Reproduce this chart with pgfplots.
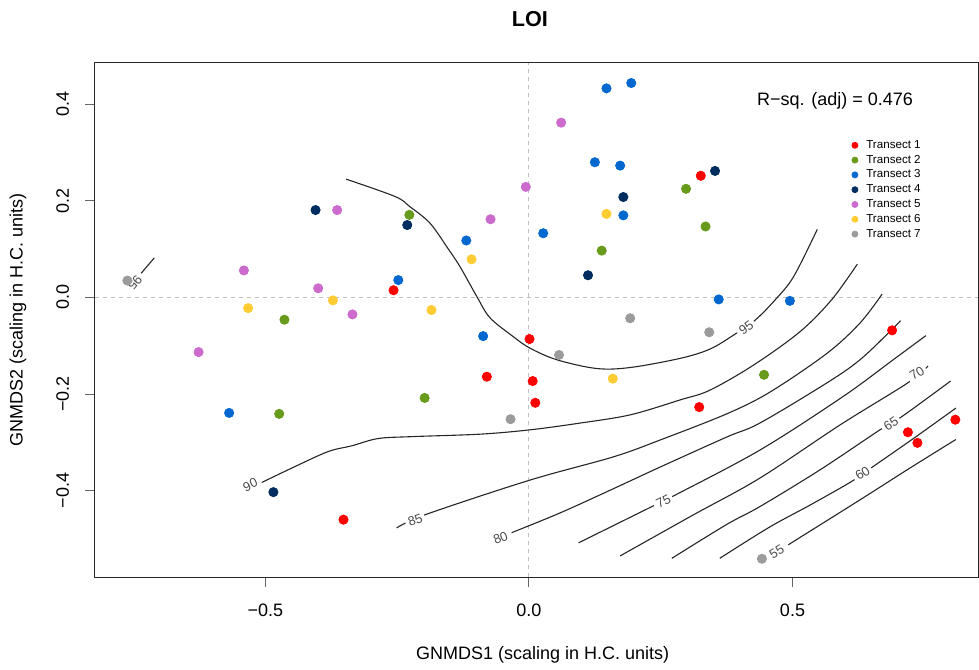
\documentclass[border=0pt]{standalone}
\usepackage{pgfplots}
\pgfplotsset{compat=1.18}
\usepackage{fontspec}
\setmainfont{Liberation Sans}
\definecolor{t1}{RGB}{255,0,0}
\definecolor{t2}{RGB}{104,154,28}
\definecolor{t3}{RGB}{0,104,206}
\definecolor{t4}{RGB}{0,45,95}
\definecolor{t5}{RGB}{204,106,206}
\definecolor{t6}{RGB}{255,204,51}
\definecolor{t7}{RGB}{155,155,155}
\tikzset{clab/.style={fill=white, inner xsep=1.4pt, inner ysep=0.4pt, font=\fontsize{6.5}{7}\selectfont, text=black!70}}
\pgfplotsset{cline/.style={black!85, line width=0.55pt, smooth, tension=0.55, forget plot, no markers}}
\begin{document}
\begin{tikzpicture}
\begin{axis}[
  at={(0,0)}, anchor=south west,
  scale only axis, width=441.5pt, height=257pt,
  xmin=-0.8235, xmax=0.852, ymin=-0.5787, ymax=0.4855,
  axis line style={line width=0.5pt, black!85},
  xtick={-0.5,0,0.5}, xticklabels={−0.5,0.0,0.5},
  ytick={-0.4,-0.2,0,0.2,0.4}, yticklabels={−0.4,−0.2,0.0,0.2,0.4},
  xtick pos=lower, ytick pos=left,
  tick align=outside, major tick length=5pt,
  tick style={black!60, line width=0.5pt},
  ticklabel style={font=\fontsize{9}{10.8}\selectfont},
  xticklabel style={anchor=center, yshift=-11.5pt},
  yticklabel style={xshift=-11.2pt, rotate=90, anchor=center},
  title=LOI,
  title style={font=\bfseries\fontsize{10.8}{13}\selectfont, at={(axis description cs:0.4926,1.062)}, anchor=center},
  xlabel={GNMDS1 (scaling in H.C. units)},
  xlabel style={font=\fontsize{9}{10.8}\selectfont, at={(axis description cs:0.507,-0.1518)}, anchor=center},
  ylabel={GNMDS2 (scaling in H.C. units)},
  ylabel style={font=\fontsize{9}{10.8}\selectfont, at={(axis description cs:-0.0872,0.5)}, anchor=center},
  legend style={at={(axis cs:0.612,0.330)}, anchor=north west, draw=none, fill=none,
    font=\fontsize{5.8}{6.5}\selectfont, inner sep=0pt, row sep=0.6pt,
    nodes={inner sep=0.6pt, text height=4.3pt, text depth=1.3pt},
    /tikz/every odd column/.append style={column sep=3.6pt}},
  legend cell align=left,
  legend image code/.code={\draw[#1,mark size=1.5pt] plot coordinates {(0cm,0cm)};},
]
% reference lines
\addplot[forget plot, gray!50, line width=0.5pt, dash pattern=on 2pt off 2pt] coordinates {(0,-0.5787) (0,0.4855)};
\addplot[forget plot, gray!50, line width=0.5pt, dash pattern=on 2pt off 2pt] coordinates {(-0.8235,0) (0.852,0)};
% contours
\addplot[cline] coordinates {(-0.736,0.050) (-0.711,0.082)};
\addplot[cline] coordinates {(-0.347,0.245) (-0.254,0.209) (-0.226,0.188) (-0.188,0.154) (-0.156,0.105) (-0.131,0.064) (-0.099,0.002) (-0.074,-0.042) (-0.030,-0.081) (0.002,-0.105) (0.053,-0.129) (0.128,-0.147) (0.192,-0.145) (0.287,-0.126) (0.343,-0.107) (0.388,-0.078) (0.429,-0.047) (0.467,-0.005) (0.502,0.043) (0.547,0.141)};
\addplot[cline] coordinates {(-0.507,-0.383) (-0.444,-0.350) (-0.381,-0.319) (-0.336,-0.307) (-0.286,-0.292) (-0.220,-0.288) (-0.093,-0.283) (0.002,-0.274) (0.097,-0.260) (0.192,-0.243) (0.287,-0.212) (0.343,-0.192) (0.426,-0.140) (0.514,-0.071) (0.574,-0.005) (0.623,0.069)};
\addplot[cline] coordinates {(-0.251,-0.477) (-0.195,-0.449) (0.002,-0.378) (0.160,-0.330) (0.249,-0.295) (0.375,-0.241) (0.457,-0.196) (0.565,-0.116) (0.628,-0.053) (0.670,0.007)};
\addplot[cline] coordinates {(-0.033,-0.487) (0.059,-0.446) (0.154,-0.399) (0.249,-0.351) (0.375,-0.289) (0.438,-0.260) (0.565,-0.177) (0.628,-0.129) (0.688,-0.067) (0.705,-0.048)};
\addplot[cline] coordinates {(0.094,-0.508) (0.233,-0.433) (0.274,-0.411) (0.438,-0.316) (0.596,-0.205) (0.691,-0.129) (0.753,-0.079)};
\addplot[cline] coordinates {(0.173,-0.535) (0.312,-0.450) (0.438,-0.374) (0.590,-0.264) (0.717,-0.178) (0.757,-0.142)};
\addplot[cline] coordinates {(0.271,-0.540) (0.375,-0.470) (0.438,-0.433) (0.552,-0.357) (0.666,-0.274) (0.707,-0.247) (0.800,-0.173)};
\addplot[cline] coordinates {(0.362,-0.540) (0.457,-0.475) (0.533,-0.430) (0.612,-0.381) (0.653,-0.350) (0.732,-0.290) (0.810,-0.229)};
\addplot[cline] coordinates {(0.492,-0.512) (0.628,-0.419) (0.723,-0.353) (0.810,-0.294)};
% contour labels
\node[clab, rotate=-130] at (axis cs:-0.748,0.031) {95};
\node[clab, rotate=35] at (axis cs:0.412,-0.063) {95};
\node[clab, rotate=25] at (axis cs:-0.529,-0.388) {90};
\node[clab, rotate=19] at (axis cs:-0.216,-0.461) {85};
\node[clab, rotate=22] at (axis cs:-0.054,-0.498) {80};
\node[clab, rotate=26] at (axis cs:0.255,-0.423) {75};
\node[clab, rotate=32] at (axis cs:0.736,-0.157) {70};
\node[clab, rotate=33] at (axis cs:0.687,-0.262) {65};
\node[clab, rotate=32] at (axis cs:0.633,-0.364) {60};
\node[clab, rotate=32] at (axis cs:0.470,-0.526) {55};
% R-squared
\node[anchor=east, font=\fontsize{9}{10.8}\selectfont] at (axis cs:0.742,0.407) {R−sq. (adj) = 0.476};
% points
\addplot[only marks, mark=*, mark size=2.3pt, color=t1, mark options={draw=t1, fill=t1}] coordinates {(-0.257,0.015) (0.326,0.252) (0.001,-0.086) (-0.080,-0.164) (0.007,-0.173) (0.012,-0.218) (-0.352,-0.460) (0.689,-0.068) (0.323,-0.227) (0.719,-0.279) (0.737,-0.301) (0.809,-0.253)};
\addlegendentry{Transect 1}
\addplot[only marks, mark=*, mark size=2.3pt, color=t2, mark options={draw=t2, fill=t2}] coordinates {(-0.227,0.171) (0.138,0.097) (0.298,0.225) (0.335,0.147) (-0.464,-0.046) (-0.474,-0.241) (-0.198,-0.208) (0.446,-0.160)};
\addlegendentry{Transect 2}
\addplot[only marks, mark=*, mark size=2.3pt, color=t3, mark options={draw=t3, fill=t3}] coordinates {(0.147,0.433) (0.194,0.444) (0.125,0.280) (0.173,0.273) (0.179,0.170) (0.027,0.133) (-0.119,0.118) (-0.248,0.036) (0.360,-0.004) (0.495,-0.007) (-0.087,-0.080) (-0.569,-0.239)};
\addlegendentry{Transect 3}
\addplot[only marks, mark=*, mark size=2.3pt, color=t4, mark options={draw=t4, fill=t4}] coordinates {(-0.405,0.181) (-0.231,0.150) (0.179,0.208) (0.112,0.046) (0.353,0.262) (-0.485,-0.403)};
\addlegendentry{Transect 4}
\addplot[only marks, mark=*, mark size=2.3pt, color=t5, mark options={draw=t5, fill=t5}] coordinates {(-0.364,0.181) (-0.541,0.056) (-0.400,0.019) (-0.335,-0.035) (0.061,0.362) (-0.006,0.229) (-0.073,0.162) (-0.627,-0.113)};
\addlegendentry{Transect 5}
\addplot[only marks, mark=*, mark size=2.3pt, color=t6, mark options={draw=t6, fill=t6}] coordinates {(-0.372,-0.006) (-0.533,-0.022) (-0.109,0.079) (-0.185,-0.026) (0.147,0.173) (0.159,-0.168)};
\addlegendentry{Transect 6}
\addplot[only marks, mark=*, mark size=2.3pt, color=t7, mark options={draw=t7, fill=t7}] coordinates {(-0.762,0.035) (0.192,-0.043) (0.057,-0.119) (-0.035,-0.252) (0.342,-0.072) (0.442,-0.541)};
\addlegendentry{Transect 7}
\end{axis}
\pgfresetboundingbox
\path[use as bounding box] (-47.5pt,-46pt) rectangle (442pt,288.5pt);
\end{tikzpicture}
\end{document}
